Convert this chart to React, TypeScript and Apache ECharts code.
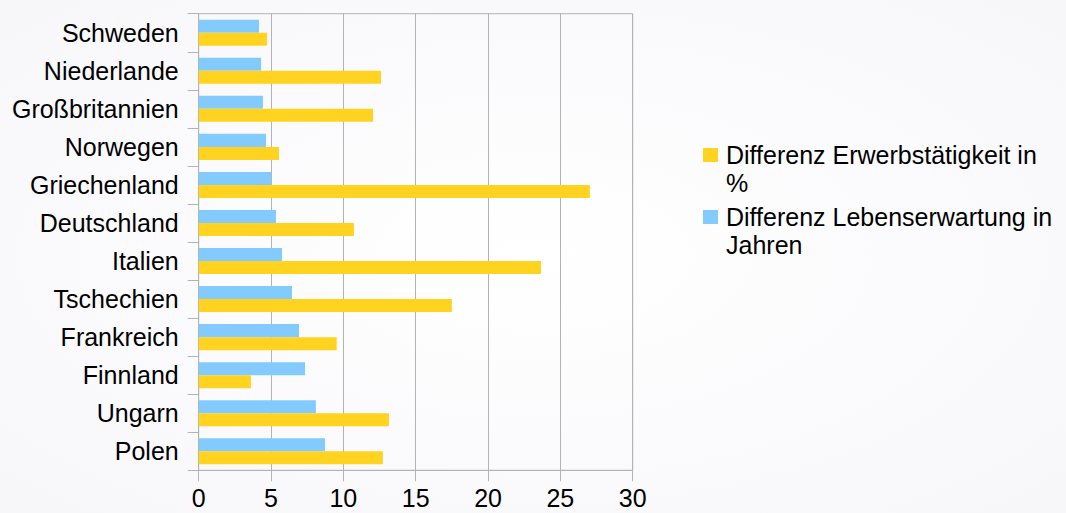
import React, { useEffect, useRef } from "react";
import * as echarts from "echarts";

const categories = [
  "Schweden",
  "Niederlande",
  "Großbritannien",
  "Norwegen",
  "Griechenland",
  "Deutschland",
  "Italien",
  "Tschechien",
  "Frankreich",
  "Finnland",
  "Ungarn",
  "Polen",
];

const lebenserwartung = [4.17, 4.31, 4.44, 4.65, 5.02, 5.34, 5.76, 6.45, 6.93, 7.35, 8.1, 8.73];
const erwerbstaetigkeit = [4.72, 12.6, 12.05, 5.55, 27.04, 10.73, 23.66, 17.5, 9.54, 3.61, 13.15, 12.73];

const nameErwerb = "Differenz Erwerbstätigkeit in %";
const nameLeben = "Differenz Lebenserwartung in Jahren";

const xTicks = { min: 0, max: 30, interval: 5 };

export default function App() {
  const ref = useRef<HTMLDivElement>(null);
  useEffect(() => {
    if (!ref.current) return;
    const chart = echarts.init(ref.current, undefined, { renderer: "svg" });
    const font = "'Liberation Sans', Arial, sans-serif";
    chart.setOption({
      animation: false,
      backgroundColor: {
        type: "radial",
        x: 0.5,
        y: 0.5,
        r: 0.8,
        colorStops: [
          { offset: 0, color: "#ffffff" },
          { offset: 1, color: "#f6f6fa" },
        ],
      },
      grid: {
        left: 198.7,
        right: 433.3,
        top: 13.7,
        bottom: 42.7,
        show: true,
        borderColor: "#b3b3b3",
        borderWidth: 1,
        backgroundColor: "transparent",
        containLabel: false,
        outerBoundsMode: "none",
      },
      legend: {
        orient: "vertical",
        left: 703,
        top: 113,
        padding: 0,
        itemWidth: 15,
        itemHeight: 14,
        itemGap: -22,
        icon: "rect",
        data: [nameErwerb, nameLeben],
        formatter: (n: string) => " \n" + n.replace(/ (\S+)$/, "\n$1"),
        textStyle: {
          fontFamily: font,
          fontSize: 25,
          lineHeight: 28,
          color: "#000",
          padding: [0, 0, 0, 3],
        },
      },
      xAxis: {
        type: "value",
        min: xTicks.min,
        max: xTicks.max,
        interval: xTicks.interval,
        axisLine: { show: true, lineStyle: { color: "#b3b3b3" } },
        axisTick: { show: true, length: 11, lineStyle: { color: "#b3b3b3" } },
        splitLine: { show: true, lineStyle: { color: "#b3b3b3" } },
        axisLabel: { fontFamily: font, fontSize: 25, lineHeight: 20, color: "#000", margin: 18 },
      },
      yAxis: {
        type: "category",
        inverse: true,
        data: categories,
        axisLine: { show: true, lineStyle: { color: "#b3b3b3" } },
        axisTick: { show: true, length: 11, lineStyle: { color: "#b3b3b3" } },
        splitLine: { show: false },
        axisLabel: { fontFamily: font, fontSize: 25, color: "#000", margin: 20 },
      },
      series: [
        {
          name: nameLeben,
          type: "bar",
          data: lebenserwartung,
          itemStyle: { color: "#83caff" },
          barGap: "0%",
          barCategoryGap: "31.6%",
        },
        {
          name: nameErwerb,
          type: "bar",
          data: erwerbstaetigkeit,
          itemStyle: { color: "#ffd320" },
          barGap: "0%",
          barCategoryGap: "31.6%",
        },
      ],
    });
    return () => chart.dispose();
  }, []);
  return <div ref={ref} style={{ width: 1066, height: 513, position: "absolute", left: 0, top: 0 }} />;
}
